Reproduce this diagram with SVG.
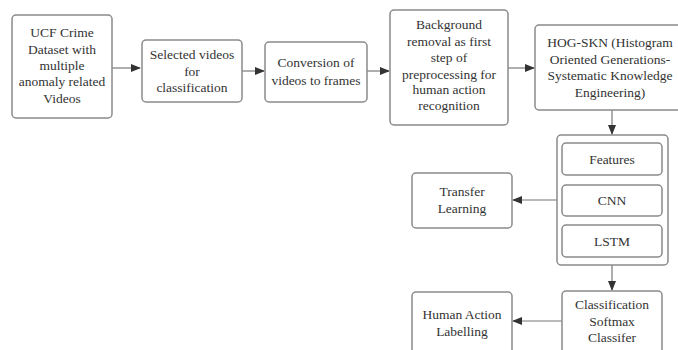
<svg xmlns="http://www.w3.org/2000/svg" width="678" height="350" viewBox="0 0 678 350">
<defs>
<marker id="ah" markerWidth="10" markerHeight="8" refX="9" refY="4" orient="auto" markerUnits="userSpaceOnUse">
<path d="M0,0 L10,4 L0,8 Z" fill="#333"/>
</marker>
<style>
rect{fill:#fff;stroke:#8a8a8a;stroke-width:1.5}
text{font-family:"Liberation Serif","DejaVu Serif",serif;font-size:13.5px;fill:#333;text-anchor:middle}
.c line{stroke:#777;stroke-width:1.2;marker-end:url(#ah)}
</style>
</defs>
<rect x="0" y="0" width="678" height="350" style="fill:#fff;stroke:none"/>
<g class="c" id="connectors">
<line x1="112" y1="68" x2="140" y2="68"/>
<line x1="242" y1="71" x2="264" y2="71"/>
<line x1="367" y1="71" x2="389" y2="71"/>
<line x1="508" y1="68" x2="534" y2="68"/>
<line x1="612" y1="110" x2="612" y2="134"/>
<line x1="557" y1="200" x2="513" y2="200"/>
<line x1="612" y1="265" x2="612" y2="290"/>
<line x1="562" y1="321" x2="513" y2="321"/>
</g>
<g id="ucf">
<rect x="12" y="15" width="100" height="103" rx="4"/>
<text x="62" y="37">UCF Crime</text>
<text x="62" y="54">Dataset with</text>
<text x="62" y="70">multiple</text>
<text x="62" y="86">anomaly related</text>
<text x="62" y="103">Videos</text>
</g>
<g id="selected">
<rect x="142" y="40" width="100" height="62" rx="4"/>
<text x="192" y="59">Selected videos</text>
<text x="192" y="76">for</text>
<text x="192" y="92">classification</text>
</g>
<g id="conversion">
<rect x="265" y="42" width="102" height="60" rx="4"/>
<text x="316" y="67">Conversion of</text>
<text x="316" y="85">videos to frames</text>
</g>
<g id="background">
<rect x="390" y="10" width="118" height="115" rx="4"/>
<text x="449" y="29">Background</text>
<text x="449" y="46">removal as first</text>
<text x="449" y="62">step of</text>
<text x="449" y="79">preprocessing for</text>
<text x="449" y="94">human action</text>
<text x="449" y="110">recognition</text>
</g>
<g id="hog">
<rect x="535" y="25" width="150" height="85" rx="4"/>
<text x="610" y="47">HOG-SKN (Histogram</text>
<text x="610" y="64">Oriented Generations-</text>
<text x="610" y="80">Systematic Knowledge</text>
<text x="610" y="97">Engineering)</text>
</g>
<g id="container">
<rect x="557" y="135" width="111" height="130" rx="4"/>
</g>
<g id="features">
<rect x="562" y="143" width="100" height="32" rx="4"/>
<text x="612" y="164">Features</text>
</g>
<g id="cnn">
<rect x="562" y="185" width="100" height="31" rx="4"/>
<text x="612" y="205">CNN</text>
</g>
<g id="lstm">
<rect x="562" y="225" width="100" height="32" rx="4"/>
<text x="612" y="246">LSTM</text>
</g>
<g id="transfer">
<rect x="412" y="173" width="100" height="55" rx="4"/>
<text x="462" y="196">Transfer</text>
<text x="462" y="213">Learning</text>
</g>
<g id="classification">
<rect x="562" y="291" width="100" height="70" rx="4"/>
<text x="612" y="309">Classification</text>
<text x="612" y="326">Softmax</text>
<text x="612" y="342">Classifer</text>
</g>
<g id="human">
<rect x="412" y="292" width="100" height="70" rx="4"/>
<text x="462" y="319">Human Action</text>
<text x="462" y="336">Labelling</text>
</g>
</svg>
